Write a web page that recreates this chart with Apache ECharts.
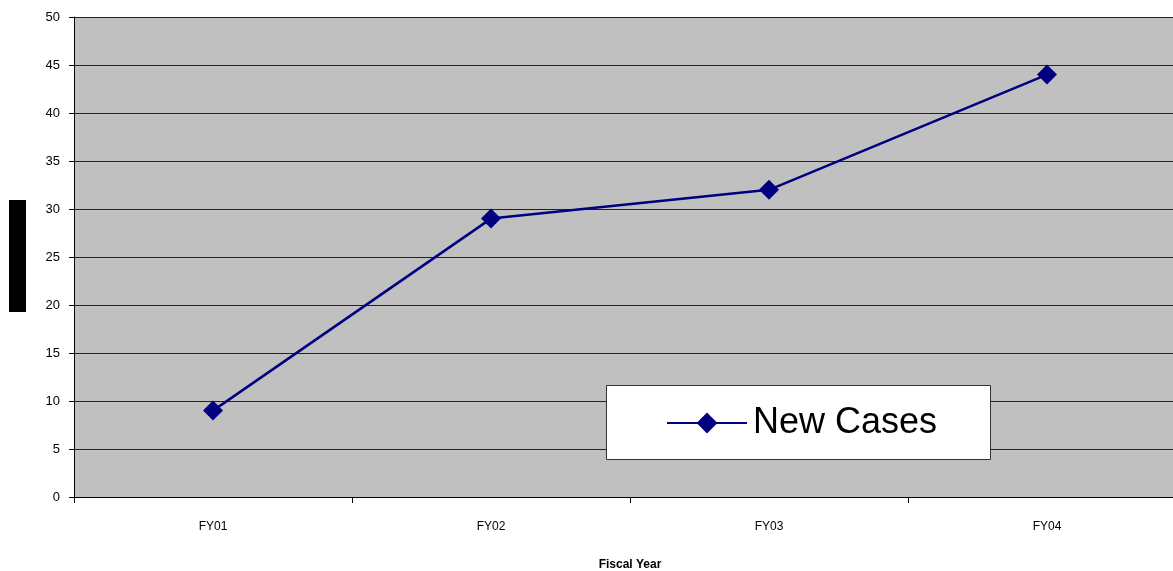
<!DOCTYPE html>
<html>
<head>
<meta charset="utf-8">
<script src="https://cdn.jsdelivr.net/npm/echarts@6/dist/echarts.min.js"></script>
<style>
  html, body { margin: 0; padding: 0; background: #ffffff; }
  #chart { width: 1173px; height: 571px; }
</style>
</head>
<body>
<div id="chart"></div>
<script>
// Fiscal-year categories and the count of new cases in each
const fiscalYears = ['FY01', 'FY02', 'FY03', 'FY04'];
const newCases = [9, 29, 32, 44];
const seriesName = 'New Cases';
const xAxisTitle = 'Fiscal Year';

const chart = echarts.init(document.getElementById('chart'), null, { renderer: 'canvas' });

chart.setOption({
  animation: false,
  backgroundColor: '#ffffff',
  textStyle: { fontFamily: 'Liberation Sans, Arial, sans-serif' },
  grid: {
    left: 74,
    top: 17,
    width: 1112,
    bottom: 74,
    outerBoundsMode: 'none',
    containLabel: false,
    show: true,
    backgroundColor: '#C0C0C0',
    borderWidth: 0
  },
  graphic: [
    {
      // solid block to the left of the value axis
      type: 'rect',
      left: 9,
      top: 200,
      shape: { width: 17, height: 112 },
      style: { fill: '#000000' },
      z: 10
    },
    {
      // legend frame
      type: 'rect',
      left: 606,
      top: 385,
      shape: { width: 384, height: 74 },
      style: { fill: '#ffffff', stroke: '#333333', lineWidth: 1 },
      z: 10
    }
  ],
  legend: {
    data: [seriesName],
    left: 666,
    top: 405,
    itemWidth: 80,
    itemHeight: 26,
    itemGap: 0,
    padding: 0,
    z: 20,
    textStyle: { fontSize: 36, color: '#000000', padding: [0, 0, 0, 1] }
  },
  xAxis: {
    type: 'category',
    data: fiscalYears,
    boundaryGap: true,
    name: xAxisTitle,
    nameLocation: 'middle',
    nameGap: 62,
    nameTextStyle: { fontSize: 12, fontWeight: 'bold', color: '#000000' },
    axisLine: { lineStyle: { color: '#000000', width: 1 } },
    axisTick: { show: true, interval: 0, length: 6, lineStyle: { color: '#000000' } },
    axisLabel: { fontSize: 12, color: '#000000', margin: 24 },
    splitLine: { show: false }
  },
  yAxis: {
    type: 'value',
    min: 0,
    max: 50,
    interval: 5,
    axisLine: { show: true, lineStyle: { color: '#000000', width: 1 } },
    axisTick: { show: true, length: 5, lineStyle: { color: '#000000' } },
    axisLabel: { fontSize: 13, color: '#000000', margin: 14 },
    splitLine: { show: true, lineStyle: { color: '#222222', width: 1 } }
  },
  series: [
    {
      name: seriesName,
      type: 'line',
      data: newCases,
      symbol: 'diamond',
      symbolSize: 20,
      showAllSymbol: true,
      lineStyle: { color: '#000080', width: 2.5 },
      itemStyle: { color: '#000080', borderWidth: 0 },
      z: 5
    }
  ]
});
</script>
</body>
</html>
